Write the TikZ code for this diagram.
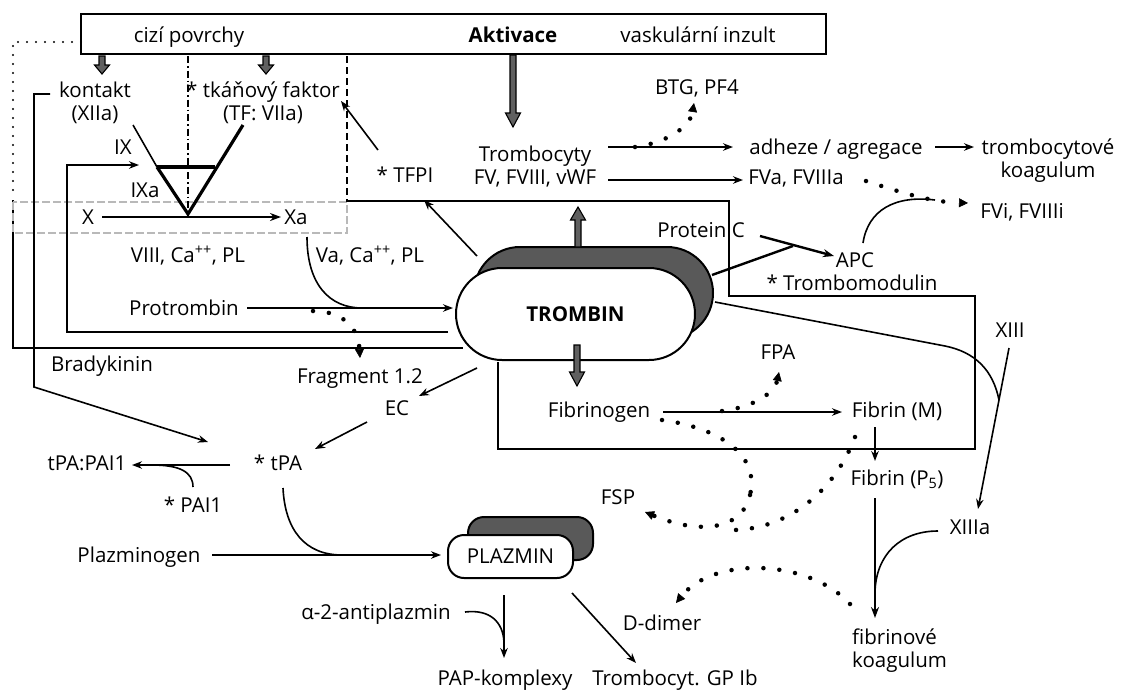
\documentclass[tikz,border=0pt]{standalone}
\usepackage{fontspec}
\setmainfont{Open Sans}
\usetikzlibrary{arrows.meta,shapes.misc}
\newcommand{\fatar}[4]{\draw[fatline] ({#1-3},#2) -- ({#1-3},#3) -- ({#1-7.5},#3) -- (#1,#4) -- ({#1+7.5},#3) -- ({#1+3},#3) -- ({#1+3},#2) -- cycle;}
\begin{document}
\begin{tikzpicture}[x=1pt,y=-1pt,
  txt/.style={inner sep=0pt, font=\fontsize{20.5}{23}\selectfont, text height=15pt, text depth=1pt},
  txtb/.style={inner sep=0pt, font=\fontsize{20.5}{23}\selectfont, align=center},
  ln/.style={line width=1.6pt},
  lnt/.style={line width=2.4pt},
  arr/.style={ln, -{Stealth[length=10pt,width=7.5pt]}},
  arrt/.style={lnt, -{Stealth[length=11pt,width=8pt]}},
  dots/.style={line width=4.5pt, line cap=round, dash pattern=on 0pt off 16pt},
  dotarr/.style={dots, -{Triangle[length=9pt,width=9pt,line width=0.6pt]}},
  smalldots/.style={line width=2.4pt, line cap=round, dash pattern=on 0pt off 9pt},
  fatline/.style={draw=black, fill=gray!75!black, line width=1.1pt, line join=miter},
  stadium/.style={draw, rounded rectangle, line width=2pt, minimum width=239pt, minimum height=92pt, inner sep=0pt},
  plbox/.style={draw, rounded corners=16pt, line width=2pt, minimum width=125pt, minimum height=43pt, inner sep=0pt}
]
\useasboundingbox[fill=white] (0,0) rectangle (1128,689);

% top box
\node[draw, line width=1.7pt, minimum width=745pt, minimum height=40pt, inner sep=0pt] (topbox) at (453.5,34) {};
\node[txt] (cizi) at (189,35) {cizí povrchy};
\node[txt, font=\fontsize{20.5}{23}\selectfont\bfseries] (akt) at (513,35) {Aktivace};
\node[txt] (vask) at (698,35) {vaskulární inzult};

% left frames
\draw[smalldots] (81,42) -- (13,42) -- (13,198);
\draw[ln] (13,200) -- (13,348) -- (463,348);
\draw[gray!55, line width=1.4pt, dash pattern=on 8pt off 3pt] (13,202) rectangle (347,233);
\draw[ln, dash pattern=on 7pt off 4pt] (347,56) -- (347,202);
\draw[ln, dash pattern=on 7pt off 3pt on 1.5pt off 3pt] (188,56) -- (188,214);
\draw[ln] (347,201) -- (729,201) -- (729,296) -- (975,296) -- (975,449) -- (498,449) -- (498,362);

% thrombin
\node[stadium, fill=black!65] (trsh) at (593.5,293) {};
\node[stadium, fill=white, font=\fontsize{20.5}{23}\selectfont\bfseries] (trombin) at (575.5,314) {TROMBIN};

% plazmin
\node[plbox, fill=black!65] (plsh) at (530.5,538.5) {};
\node[plbox, fill=white, font=\fontsize{20.5}{23}\selectfont] (plazmin) at (510.5,556.5) {PLAZMIN};

% texts
\node[txtb] (kontakt) at (95,103) {kontakt\\(XIIa)};
\node[txtb] (tf) at (263,103) {* tkáňový faktor\\(TF: VIIa)};
\node[txt] (ix) at (123,147) {IX};
\node[txt] (ixa) at (145,190) {IXa};
\node[txt] (x) at (88,217) {X};
\node[txt] (xa) at (296,217) {Xa};
\node[txt] (viii) at (188,255) {VIII, Ca\textsuperscript{++}, PL};
\node[txt] (va) at (370,255) {Va, Ca\textsuperscript{++}, PL};
\node[txt] (tfpi) at (405,175) {* TFPI};
\node[txtb] (tromb) at (535,167) {Trombocyty\\FV, FVIII, vWF};
\node[txt] (btg) at (697,87) {BTG, PF4};
\node[txt] (adh) at (836,147) {adheze / agregace};
\node[txtb] (tkoag) at (1048,161) {trombocytové\\koagulum};
\node[txt] (fva) at (796,177) {FVa, FVIIIa};
\node[txt] (fvi) at (1022,211) {FVi, FVIIIi};
\node[txt] (protc) at (701,230) {Protein C};
\node[txt] (apc) at (855,260) {APC};
\node[txt] (tm) at (852,283) {* Trombomodulin};
\node[txt] (protr) at (184,308) {Protrombin};
\node[txt] (frag) at (360,376) {Fragment 1.2};
\node[txt] (brady) at (102,364) {Bradykinin};
\node[txt] (ec) at (397,408) {EC};
\node[txt] (tpa) at (278,463) {* tPA};
\node[txt] (tpapai) at (87,463) {tPA:PAI1};
\node[txt] (pai) at (193,505) {* PAI1};
\node[txt] (plg) at (139,555) {Plazminogen};
\node[txt] (fbg) at (599,410) {Fibrinogen};
\node[txt] (fpa) at (778,352) {FPA};
\node[txt] (fbm) at (897,410) {Fibrin (M)};
\node[txt] (fbp) at (897,478) {Fibrin (P\textsubscript{5})};
\node[txt] (xiii) at (1010,330) {XIII};
\node[txt] (xiiia) at (970,527) {XIIIa};
\node[txt] (fsp) at (618,497) {FSP};
\node[txt] (dd) at (662,623) {D-dimer};
\node[txtb, align=left, anchor=west] (fkoag) at (852,651) {fibrinové\\koagulum};
\node[txt] (anti) at (376,612) {α-2-antiplazmin};
\node[txt] (pap) at (505,678) {PAP-komplexy};
\node[txt] (gp) at (675,678) {Trombocyt. GP Ib};

% fat arrows
\fatar{513}{55}{113}{127}
\fatar{102}{56}{65}{74}
\fatar{266}{56}{65}{74}
\fatar{578}{247}{220}{207}
\fatar{577}{345}{372}{386}

% V shape
\draw[ln] (133,125) -- (157,167);
\draw[line width=3.2pt] (157,167) -- (188,214) -- (243,125);
\draw[line width=3.2pt] (157,167) -- (215,167);
\draw[arrt] (102,217) -- (281,217);

% feedback loop
\draw[arr] (448,332) -- (67,332) -- (67,165) -- (139,165);

% protrombin
\draw[arr] (247,308) -- (453,308);
\draw[ln] (307,237) .. controls (307,285) and (330,308) .. (362,308);
\draw[dotarr] (313,311) .. controls (340,311) and (358,325) .. (360,358);

% TFPI
\draw[arr] (477,256) -- (424,200);
\draw[arr] (378,150) -- (341,101);

% bradykinin
\draw[arr] (50,94) -- (34,94) -- (34,387) -- (208,442);

% thrombocytes
\draw[arr] (608,147) -- (733,147);
\draw[arr] (608,180) -- (743,180);
\draw[arr] (935,147) -- (974,147);
\draw[dotarr] (635,147) .. controls (665,143) and (690,128) .. (694,103);
\draw[dotarr] (866,181) .. controls (900,192) and (930,202) .. (968,203);

% protein C
\draw[ln] (863,243) .. controls (868,210) and (895,195) .. (935,200);
\draw[arrt] (760,236) -- (834,256);
\draw[lnt] (712,275) -- (793,246);

% XIII
\draw[ln] (715,302) -- (945,346) .. controls (975,352) and (993,370) .. (999,400);
\draw[arr] (1009,348) -- (978,509);

% fibrin
\draw[arr] (663,412) -- (842,412);
\draw[dotarr] (722,411) .. controls (755,407) and (775,392) .. (779,372);
\draw[arr] (875,427) -- (875,461);
\draw[arrt] (875,498) -- (875,618);
\draw[ln] (938,531) .. controls (900,531) and (876,555) .. (875,592);

% fibrinolysis dots
\draw[dots] (662,420) .. controls (720,428) and (760,455) .. (750,495);
\draw[dotarr] (750,495) .. controls (742,530) and (700,535) .. (645,512);
\draw[dots] (855,437) .. controls (835,490) and (790,528) .. (735,530);
\draw[dotarr] (850,604) .. controls (810,560) and (715,555) .. (676,603);

% EC, tPA
\draw[arr] (477,368) -- (419,396);
\draw[arr] (367,422) -- (315,449);
\draw[arr] (230,465) -- (132,465);
\draw[ln] (193,487) .. controls (193,472) and (180,465) .. (152,465);
\draw[ln] (283,488) .. controls (285,530) and (305,555) .. (342,555);
\draw[arr] (212,555) -- (441,555);

% plazmin outputs
\draw[arr] (504,595) -- (504,658);
\draw[ln] (465,612) .. controls (490,609) and (503,622) .. (504,642);
\draw[arr] (572,593) -- (636,663);
\end{tikzpicture}
\end{document}
